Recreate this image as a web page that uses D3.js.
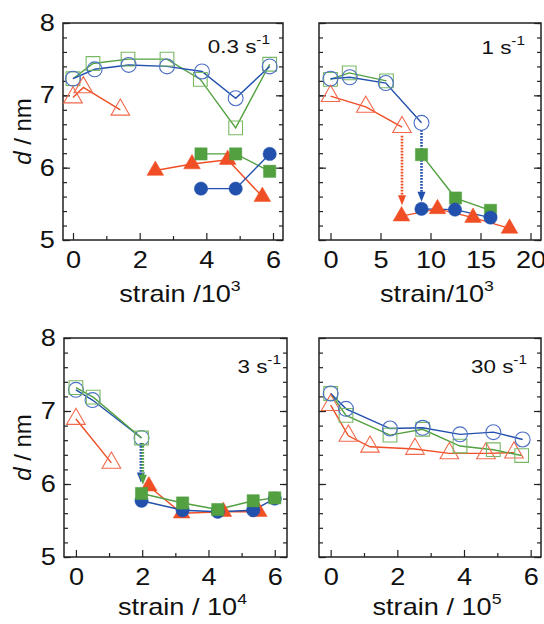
<!DOCTYPE html>
<html>
<head>
<meta charset="utf-8">
<script src="https://cdn.jsdelivr.net/npm/d3@7"></script>
<style>
  body { margin: 0; background: #fff; }
  text { font-family: "Liberation Sans", Arial, sans-serif; fill: #111; white-space: pre; }
</style>
</head>
<body>
<svg id="chart" width="544" height="624"></svg>
<script>
// ---- data ----
const yMajor = [5, 6, 7, 8];
const yMinor = d3.range(5, 8.01, 0.2);

// 0.3 s-1
const p1OpenSquare = [[0, 7.23], [0.6, 7.44], [1.65, 7.5], [2.82, 7.5], [3.82, 7.22], [4.88, 6.55], [5.9, 7.43]];
const p1OpenCircle = [[0, 7.23], [0.65, 7.36], [1.67, 7.42], [2.82, 7.4], [3.87, 7.33], [4.88, 6.96], [5.9, 7.4]];
const p1OpenTriangle = [[0, 6.97], [0.31, 7.11], [1.42, 6.8]];
const p1FilledTriangle = [[2.47, 5.96], [3.57, 6.05], [4.64, 6.11], [5.68, 5.6]];
const p1FilledSquare = [[3.84, 6.19], [4.88, 6.19], [5.9, 5.95]];
const p1FilledCircle = [[3.84, 5.71], [4.88, 5.71], [5.9, 6.19]];

// 1 s-1
const p2OpenSquare = [[0, 7.22], [1.87, 7.31], [5.6, 7.2]];
const p2OpenCircle = [[0, 7.23], [1.93, 7.25], [5.53, 7.17], [9.1, 6.62]];
const p2OpenTriangle = [[0, 6.99], [3.53, 6.84], [7.15, 6.56]];
const p2FilledSquare = [[9.1, 6.18], [12.5, 5.58], [16.0, 5.41]];
const p2FilledCircle = [[9.1, 5.43], [12.45, 5.42], [16.0, 5.31]];
const p2FilledTriangle = [[7.1, 5.33], [10.7, 5.43], [14.25, 5.31], [17.9, 5.16]];
const p2ArrowRed = [7.15, 6.44, 5.48];
const p2ArrowBlue = [9.1, 6.52, 5.53];

// 3 s-1
const p3OpenCircle = [[0, 7.29], [0.5, 7.15], [1.98, 6.63]];
const p3OpenSquare = [[0, 7.32], [0.52, 7.19], [1.98, 6.63]];
const p3OpenTriangle = [[0, 6.89], [1.07, 6.29]];
const p3FilledCircle = [[1.98, 5.77], [3.22, 5.64], [4.28, 5.62], [5.35, 5.64], [6.0, 5.8]];
const p3FilledSquare = [[1.98, 5.87], [3.22, 5.74], [4.28, 5.65], [5.35, 5.77], [6.0, 5.81]];
const p3FilledTriangle = [[2.2, 5.97], [3.19, 5.6], [4.45, 5.62], [5.52, 5.62]];
const p3ArrowBlue = [1.96, 6.56, 6.02];
const p3ArrowGreen = [2.02, 6.56, 5.99];

// 30 s-1
const p4OpenCircle = [[0, 7.24], [0.46, 7.03], [1.78, 6.76], [2.76, 6.77], [3.88, 6.68], [4.88, 6.71], [5.76, 6.61]];
const p4OpenSquare = [[0, 7.24], [0.46, 6.94], [1.78, 6.67], [2.76, 6.75], [3.88, 6.52], [4.88, 6.47], [5.73, 6.39]];
const p4OpenTriangle = [[0, 7.08], [0.53, 6.66], [1.18, 6.51], [2.53, 6.48], [3.56, 6.42], [4.66, 6.42], [5.5, 6.43]];

// ---- styling ----
const col = {
  blue: "#2150ad", blueOpen: "#4a6ec4",
  green: "#52a040", greenOpen: "#78b865",
  red: "#f04e24", redOpen: "#f26a4c"
};
// the original figure's lettering is a little wider than Arial
const stretch = 1.18;

const svg = d3.select("#chart");

const panels = [
  {
    frame: [63, 283, 23, 240], xDomain: [-0.3, 6.3], xMajor: [0, 2, 4, 6], xMinor: [1, 3, 5],
    title: ["0.3 s", "-1"], titleX: 270, titleY: 53, yLabels: true,
    xLabel: ["strain /10", "3"], xLabelY: 302,
    series: [
      { d: p1OpenSquare, shape: "square", open: true, c: col.greenOpen, lc: col.green },
      { d: p1OpenCircle, shape: "circle", open: true, c: col.blueOpen, lc: col.blue },
      { d: p1OpenTriangle, shape: "triangle", open: true, c: col.redOpen, lc: col.red },
      { d: p1FilledTriangle, shape: "triangle", c: col.red, lc: col.red },
      { d: p1FilledSquare, shape: "square", c: col.green, lc: col.green },
      { d: p1FilledCircle, shape: "circle", c: col.blue, lc: col.blue }
    ],
    arrows: []
  },
  {
    frame: [319, 541, 23, 240], xDomain: [-1.15, 21.05], xMajor: [0, 5, 10, 15, 20], xMinor: [],
    title: ["1 s", "-1"], titleX: 525, titleY: 54, yLabels: false,
    xLabel: ["strain/10", "3"], xLabelY: 302,
    series: [
      { d: p2OpenSquare, shape: "square", open: true, c: col.greenOpen, lc: col.green },
      { d: p2OpenCircle, shape: "circle", open: true, c: col.blueOpen, lc: col.blue },
      { d: p2OpenTriangle, shape: "triangle", open: true, c: col.redOpen, lc: col.red },
      { d: p2FilledSquare, shape: "square", c: col.green, lc: col.green },
      { d: p2FilledCircle, shape: "circle", c: col.blue, lc: col.blue },
      { d: p2FilledTriangle, shape: "triangle", c: col.red, lc: col.red }
    ],
    arrows: [{ a: p2ArrowRed, c: col.red }, { a: p2ArrowBlue, c: col.blue }]
  },
  {
    frame: [64, 287, 338, 557], xDomain: [-0.36, 6.37], xMajor: [0, 2, 4, 6], xMinor: [1, 3, 5],
    title: ["3 s", "-1"], titleX: 281, titleY: 373, yLabels: true,
    xLabel: ["strain / 10", "4"], xLabelY: 615,
    series: [
      { d: p3OpenCircle, shape: "circle", open: true, c: col.blueOpen, lc: col.blue },
      { d: p3OpenSquare, shape: "square", open: true, c: col.greenOpen, lc: col.green },
      { d: p3OpenTriangle, shape: "triangle", open: true, c: col.redOpen, lc: col.red },
      { d: p3FilledTriangle, shape: "triangle", c: col.red, lc: col.red },
      { d: p3FilledCircle, shape: "circle", c: col.blue, lc: col.blue },
      { d: p3FilledSquare, shape: "square", c: col.green, lc: col.green }
    ],
    arrows: [{ a: p3ArrowBlue, c: col.blue }, { a: p3ArrowGreen, c: col.green }]
  },
  {
    frame: [319, 541, 338, 557], xDomain: [-0.35, 6.31], xMajor: [0, 2, 4, 6], xMinor: [1, 3, 5],
    title: ["30 s", "-1"], titleX: 527, titleY: 373, yLabels: false,
    xLabel: ["strain / 10", "5"], xLabelY: 615,
    series: [
      { d: p4OpenTriangle, shape: "triangle", open: true, c: col.redOpen, lc: col.red },
      { d: p4OpenSquare, shape: "square", open: true, c: col.greenOpen, lc: col.green },
      { d: p4OpenCircle, shape: "circle", open: true, c: col.blueOpen, lc: col.blue }
    ],
    arrows: []
  }
];

const symbolSize = { circle: 140, square: 150, triangle: 120 };
const symbolType = { circle: d3.symbolCircle, square: d3.symbolSquare, triangle: d3.symbolTriangle };

function stretchedText(parent, x, y, anchor, size) {
  return parent.append("text")
    .attr("transform", `translate(${x},${y}) scale(${stretch},1)`)
    .attr("text-anchor", anchor)
    .style("font-size", size + "px");
}

function drawPanel(p) {
  const [x0, x1, y0, y1] = p.frame;
  const x = d3.scaleLinear().domain(p.xDomain).range([x0, x1]);
  const y = d3.scaleLinear().domain([5, 8]).range([y1, y0]);
  const g = svg.append("g");
  const fmt = d3.format("d");

  // ticks (all inward)
  const axes = [
    [d3.axisLeft(y).tickValues(yMajor).tickFormat(fmt).tickSize(-7).tickPadding(7), x0, 0, p.yLabels],
    [d3.axisLeft(y).tickValues(yMinor).tickSize(-4), x0, 0, false],
    [d3.axisRight(y).tickValues(yMajor).tickSize(-7), x1, 0, false],
    [d3.axisRight(y).tickValues(yMinor).tickSize(-4), x1, 0, false],
    [d3.axisBottom(x).tickValues(p.xMajor).tickFormat(fmt).tickSize(-7).tickPadding(12), 0, y1, true],
    [d3.axisBottom(x).tickValues(p.xMinor).tickSize(-4), 0, y1, false]
  ];
  axes.forEach(([ax, tx, ty, labels]) => {
    const a = g.append("g").attr("transform", `translate(${tx},${ty})`).call(ax);
    a.select(".domain").remove();
    a.selectAll("line").attr("stroke", "#222").attr("stroke-width", 1.2);
    if (!labels) a.selectAll("text").remove();
    else a.selectAll("text")
      .style("font-size", "23px")
      .attr("fill", "#111")
      .attr("transform", `scale(${stretch},1)`);
  });

  g.append("rect")
    .attr("x", x0).attr("y", y0)
    .attr("width", x1 - x0).attr("height", y1 - y0)
    .attr("fill", "none").attr("stroke", "#222").attr("stroke-width", 1.5);

  const line = d3.line().x(d => x(d[0])).y(d => y(d[1]));

  // dotted arrows
  p.arrows.forEach(({ a, c }) => {
    const [ax, ya, yb] = a;
    g.append("line")
      .attr("x1", x(ax)).attr("x2", x(ax))
      .attr("y1", y(ya)).attr("y2", y(yb) - 8)
      .attr("stroke", c).attr("stroke-width", 2.6)
      .attr("stroke-dasharray", "1.6,1.4");
    g.append("path")
      .attr("d", `M${x(ax) - 4},${y(yb) - 10}L${x(ax) + 4},${y(yb) - 10}L${x(ax)},${y(yb)}Z`)
      .attr("fill", c);
  });

  p.series.forEach(s => {
    g.append("path")
      .datum(s.d)
      .attr("d", line)
      .attr("fill", "none")
      .attr("stroke", s.lc)
      .attr("stroke-width", 1.4);
  });

  p.series.forEach(s => {
    g.selectAll(null)
      .data(s.d)
      .enter()
      .append("path")
      .attr("transform", d => `translate(${x(d[0])},${y(d[1])})`)
      .attr("d", d3.symbol().type(symbolType[s.shape]).size(symbolSize[s.shape] * (s.open ? 1.25 : 1)))
      .attr("fill", s.open ? "none" : s.c)
      .attr("stroke", s.c)
      .attr("stroke-width", s.open ? 1.1 : 0.5);
  });

  // rate label
  const t = stretchedText(g, p.titleX, p.titleY, "end", 19);
  t.append("tspan").text(p.title[0]);
  t.append("tspan").attr("dy", -9).style("font-size", "13px").text(p.title[1]);

  // x label
  const xl = stretchedText(g, (x0 + x1) / 2 + 7, p.xLabelY, "middle", 23);
  xl.append("tspan").text(p.xLabel[0]);
  xl.append("tspan").attr("dy", -11).style("font-size", "15px").text(p.xLabel[1]);

  if (p.yLabels) {
    const yl = g.append("text")
      .attr("transform", `translate(31,${(y0 + y1) / 2}) rotate(-90)`)
      .attr("text-anchor", "middle")
      .style("font-size", "24px");
    yl.append("tspan").style("font-style", "italic").text("d");
    yl.append("tspan").text(" / nm");
  }
}

panels.forEach(drawPanel);
</script>
</body>
</html>
